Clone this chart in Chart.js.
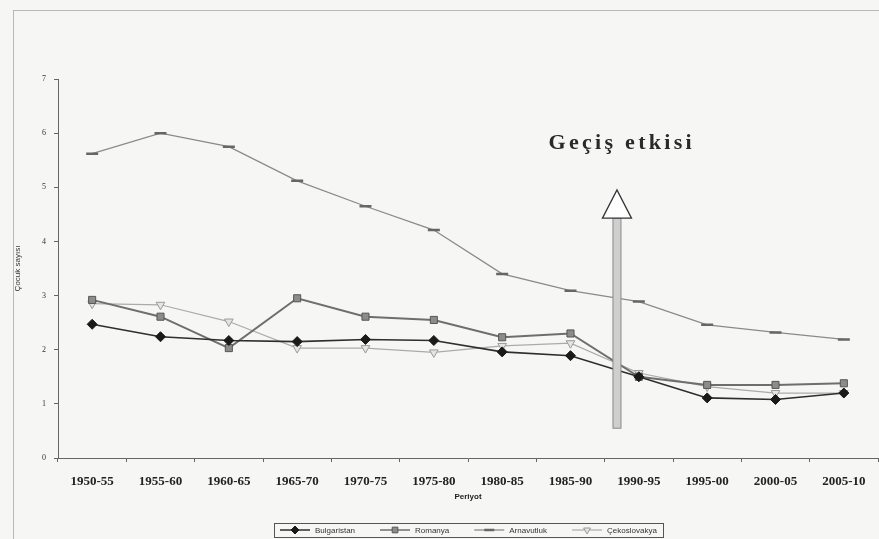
<!DOCTYPE html>
<html>
<head>
<meta charset="utf-8">
<script src="https://cdn.jsdelivr.net/npm/chart.js@4"></script>
<style>
  html, body { margin: 0; padding: 0; background: #f6f6f4; }
  #wrap { position: relative; width: 879px; height: 539px; }
  #frame { position: absolute; left: 13px; top: 10px; width: 880px; height: 600px;
           border-left: 1px solid #b8b8b8; border-top: 1px solid #b8b8b8; }
  canvas { position: absolute; left: 0; top: 0; }
</style>
</head>
<body>
<div id="wrap">
  <div id="frame"></div>
  <canvas id="c" width="879" height="539"></canvas>
</div>
<script>
// ─── DATA ────────────────────────────────────────────────────────────────
const periods = ['1950-55', '1955-60', '1960-65', '1965-70', '1970-75', '1975-80',
                 '1980-85', '1985-90', '1990-95', '1995-00', '2000-05', '2005-10'];
const yTicks = [0, 1, 2, 3, 4, 5, 6, 7];

const bulgaristan = [2.47, 2.24, 2.17, 2.15, 2.19, 2.17, 1.96, 1.89, 1.50, 1.11, 1.08, 1.20];
const romanya     = [2.92, 2.61, 2.03, 2.95, 2.61, 2.55, 2.23, 2.30, 1.50, 1.35, 1.35, 1.38];
const arnavutluk  = [5.62, 6.00, 5.75, 5.12, 4.65, 4.21, 3.40, 3.09, 2.89, 2.46, 2.32, 2.19];
const cekoslovakya = [2.85, 2.83, 2.52, 2.03, 2.03, 1.95, 2.07, 2.12, 1.57, 1.32, 1.20, 1.20];

// annotation: transition arrow (category index, values)
const arrowAt = 7.68, arrowFrom = 0.55, arrowBase = 4.43, arrowTip = 4.95;
const noteText = 'Geçiş etkisi', noteAt = 7.75, noteY = 5.82;

// ─── PLUGINS ─────────────────────────────────────────────────────────────
function catPixel(scale, idx) {
  const i = Math.floor(idx), f = idx - i;
  const a = scale.getPixelForValue(i), b = scale.getPixelForValue(i + 1);
  return a + (b - a) * f;
}

const arrowPlugin = {
  id: 'arrow',
  afterDatasetsDraw(chart) {
    const { ctx, scales: { x, y } } = chart;
    const cx = catPixel(x, arrowAt);
    const yb = y.getPixelForValue(arrowFrom), yh = y.getPixelForValue(arrowBase), yt = y.getPixelForValue(arrowTip);
    ctx.save();
    ctx.fillStyle = '#cfcfcf';
    ctx.strokeStyle = '#8a8a8a';
    ctx.lineWidth = 1;
    ctx.fillRect(cx - 4, yh, 8, yb - yh);
    ctx.strokeRect(cx - 4, yh, 8, yb - yh);
    ctx.beginPath();
    ctx.moveTo(cx - 14.5, yh);
    ctx.lineTo(cx + 14.5, yh);
    ctx.lineTo(cx, yt);
    ctx.closePath();
    ctx.fillStyle = '#ffffff';
    ctx.fill();
    ctx.strokeStyle = '#333';
    ctx.lineWidth = 1.3;
    ctx.stroke();
    // note
    ctx.fillStyle = '#2a2a2a';
    ctx.font = 'bold 22px "Liberation Serif", "DejaVu Serif", serif';
    ctx.textAlign = 'left';
    ctx.textBaseline = 'middle';
    if ('letterSpacing' in ctx) ctx.letterSpacing = '3.3px';
    const w = ctx.measureText(noteText).width;
    ctx.fillText(noteText, catPixel(x, noteAt) - w / 2, y.getPixelForValue(noteY));
    ctx.restore();
  }
};

function drawMarker(ctx, ds, x, y) {
  ctx.save();
  ctx.fillStyle = ds.backgroundColor;
  ctx.strokeStyle = ds.pointBorderColor || ds.borderColor;
  ctx.lineWidth = ds.pointBorderWidth;
  Chart.helpers.drawPoint(ctx, {
    pointStyle: ds.pointStyle, rotation: ds.pointRotation || 0,
    radius: ds.pointStyle === 'line' ? 5 : 4, borderWidth: ds.pointBorderWidth
  }, x, y);
  ctx.restore();
}

// Excel-style legend: line segment with marker, boxed, centered under the plot
const legendPlugin = {
  id: 'boxLegend',
  afterDraw(chart) {
    const { ctx, chartArea } = chart;
    const font = '8px Arial, "Liberation Sans", sans-serif';
    const seg = 30, gapTxt = 5, gapItem = 25, padX = 6, cy = 530;
    ctx.save();
    ctx.font = font;
    const items = chart.data.datasets.map(ds => ({ ds, tw: ctx.measureText(ds.label).width }));
    const total = items.reduce((s, it) => s + seg + gapTxt + it.tw, 0) + gapItem * (items.length - 1) + padX * 2;
    const left = Math.round((chartArea.left + chartArea.right) / 2 - total / 2);
    ctx.strokeStyle = '#555';
    ctx.lineWidth = 1;
    ctx.strokeRect(left + 0.5, cy - 7 + 0.5, Math.round(total), 14);
    let xx = left + padX;
    items.forEach(({ ds, tw }) => {
      ctx.strokeStyle = ds.borderColor;
      ctx.lineWidth = Math.min(ds.borderWidth, 1.5);
      ctx.beginPath();
      ctx.moveTo(xx, cy);
      ctx.lineTo(xx + seg, cy);
      ctx.stroke();
      drawMarker(ctx, ds, xx + seg / 2, cy);
      ctx.fillStyle = '#333';
      ctx.textBaseline = 'middle';
      ctx.fillText(ds.label, xx + seg + gapTxt, cy + 0.5);
      xx += seg + gapTxt + tw + gapItem;
    });
    ctx.restore();
  }
};

// ─── CHART ───────────────────────────────────────────────────────────────
const serif = '"Liberation Serif", "DejaVu Serif", serif';

new Chart(document.getElementById('c'), {
  type: 'line',
  data: {
    labels: periods,
    datasets: [
      { label: 'Bulgaristan', data: bulgaristan, borderColor: '#2e2e2e', backgroundColor: '#1a1a1a',
        pointBorderColor: '#1a1a1a', borderWidth: 1.6, pointStyle: 'rectRot', pointRadius: 5, pointBorderWidth: 1 },
      { label: 'Romanya', data: romanya, borderColor: '#6e6e6e', backgroundColor: '#8c8c8c',
        pointBorderColor: '#555', borderWidth: 2, pointStyle: 'rect', pointRadius: 5, pointBorderWidth: 1 },
      { label: 'Arnavutluk', data: arnavutluk, borderColor: '#8a8a8a', backgroundColor: '#777',
        pointBorderColor: '#666', borderWidth: 1.3, pointStyle: 'line', pointRadius: 6, pointBorderWidth: 2.5 },
      { label: 'Çekoslovakya', data: cekoslovakya, borderColor: '#ababab', backgroundColor: '#e4e4e4',
        pointBorderColor: '#9a9a9a', borderWidth: 1.2, pointStyle: 'triangle', pointRotation: 180,
        pointRadius: 5, pointBorderWidth: 1 }
    ]
  },
  options: {
    responsive: false,
    animation: false,
    layout: { autoPadding: false, padding: { top: 79, right: 1, left: 0, bottom: 0 } },
    plugins: {
      title: { display: false },
      tooltip: { enabled: false },
      legend: { display: false }
    },
    scales: {
      x: {
        offset: true,
        afterFit: s => { s.height = 81; s.paddingLeft = 0; s.paddingRight = 0; },
        grid: { drawOnChartArea: false, color: '#666', tickLength: 4, offset: true },
        border: { color: '#666', width: 1 },
        ticks: { color: '#222', maxRotation: 0, padding: 12, font: { size: 13, weight: 'bold', family: serif } },
        title: { display: true, text: 'Periyot', color: '#222', padding: { top: 2, bottom: 37 },
                 font: { size: 8, weight: 'bold', family: 'Arial, "Liberation Sans", sans-serif' } }
      },
      y: {
        min: 0, max: 7,
        afterFit: s => { s.width = 58; },
        afterBuildTicks: s => { s.ticks = yTicks.map(v => ({ value: v })); },
        grid: { drawOnChartArea: false, color: '#666', tickLength: 4 },
        border: { color: '#666', width: 1 },
        ticks: { color: '#333', padding: 8, font: { size: 8, family: serif } },
        title: { display: true, text: 'Çocuk sayısı', color: '#333', padding: { top: 13, bottom: 0 },
                 font: { size: 8, family: 'Arial, "Liberation Sans", sans-serif' } }
      }
    }
  },
  plugins: [arrowPlugin, legendPlugin]
});
</script>
</body>
</html>
